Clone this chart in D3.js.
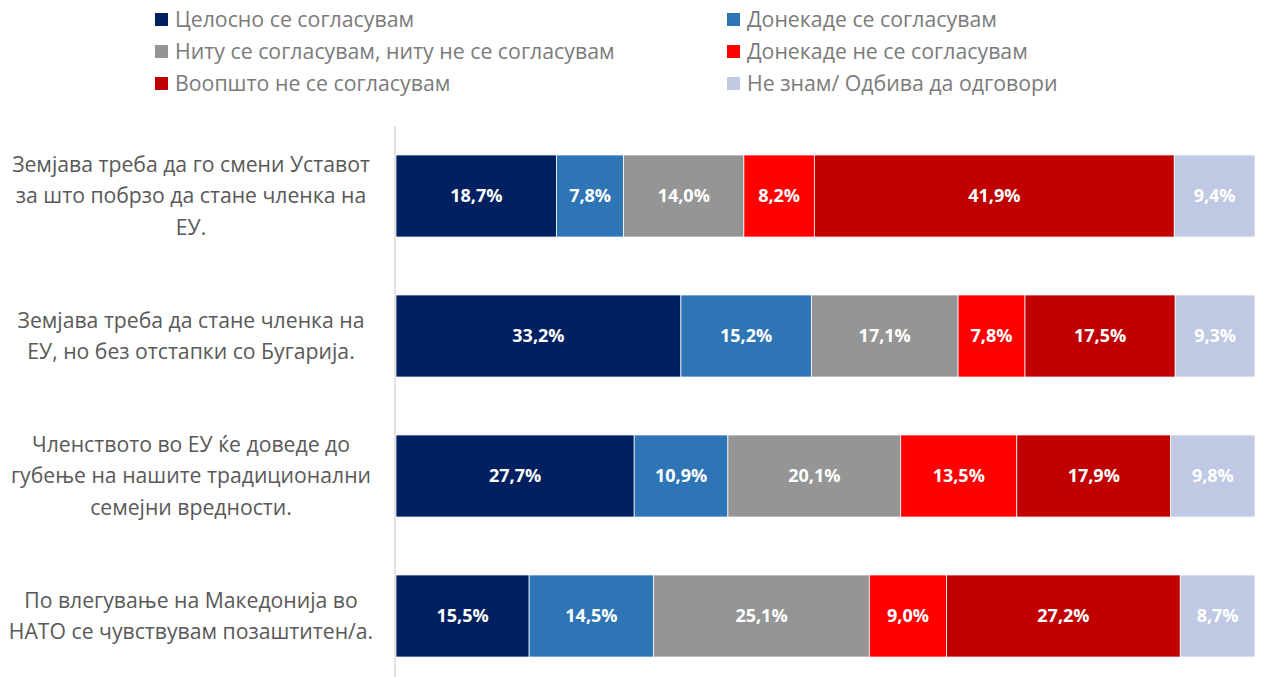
<!DOCTYPE html>
<html>
<head>
<meta charset="utf-8">
<title>Stacked bars</title>
<script src="https://cdn.jsdelivr.net/npm/d3@7"></script>
<style>
  body { margin: 0; background: #fff; }
  svg { display: block; font-family: "Open Sans", sans-serif; }
</style>
</head>
<body>
<svg id="chart" width="1261" height="677"></svg>
<script>
// categories (line breaks as in the original labels)
const categories = [
  "Земјава треба да го смени Уставот\nза што побрзо да стане членка на\nЕУ.",
  "Земјава треба да стане членка на\nЕУ, но без отстапки со Бугарија.",
  "Членството во ЕУ ќе доведе до\nгубење на нашите традиционални\nсемејни вредности.",
  "По влегување на Македонија во\nНАТО се чувствувам позаштитен/а."
];
const seriesNames = [
  "Целосно се согласувам",
  "Донекаде се согласувам",
  "Ниту се согласувам, ниту не се согласувам",
  "Донекаде не се согласувам",
  "Воопшто не се согласувам",
  "Не знам/ Одбива да одговори"
];
const colors = ["#002060", "#2E75B6", "#959595", "#FF0000", "#C00000", "#BFC9E4"];
// one array per series, values in category order
const fullyAgree    = [18.7, 33.2, 27.7, 15.5];
const partlyAgree   = [7.8, 15.2, 10.9, 14.5];
const neither       = [14.0, 17.1, 20.1, 25.1];
const partlyDisagree = [8.2, 7.8, 13.5, 9.0];
const fullyDisagree = [41.9, 17.5, 17.9, 27.2];
const dontKnow      = [9.4, 9.3, 9.8, 8.7];

const seriesValues = [fullyAgree, partlyAgree, neither, partlyDisagree, fullyDisagree, dontKnow];

const rows = categories.map((c, i) => {
  const r = { category: c };
  seriesNames.forEach((s, j) => { r[s] = seriesValues[j][i]; });
  return r;
});

const svg = d3.select("#chart");

const x = d3.scaleLinear().domain([0, 1]).range([396, 1255]);
const y = d3.scaleBand().domain(categories).range([126, 686])
  .paddingInner(0.414).paddingOuter(0.207);
const color = d3.scaleOrdinal().domain(seriesNames).range(colors);

const stacked = d3.stack().keys(seriesNames).offset(d3.stackOffsetExpand)(rows);

// legend, two columns
const legend = svg.append("g");
seriesNames.forEach((s, i) => {
  const col = i % 2, row = Math.floor(i / 2);
  const g = legend.append("g")
    .attr("transform", `translate(${col === 0 ? 155 : 727},${19.5 + row * 32})`);
  g.append("rect").attr("x", 0).attr("y", -6.5).attr("width", 13).attr("height", 13)
    .attr("fill", color(s));
  g.append("text").attr("x", 20).attr("y", 0).attr("dy", "0.35em")
    .attr("fill", "#7B7B7B").style("font-size", "21.3px").text(s);
});

// bars
const layer = svg.append("g").selectAll("g").data(stacked).join("g")
  .attr("fill", d => color(d.key));

layer.selectAll("rect").data(d => d.map(v => Object.assign(v, { key: d.key })))
  .join("rect")
  .attr("x", d => x(d[0]))
  .attr("y", d => y(d.data.category))
  .attr("width", d => x(d[1]) - x(d[0]))
  .attr("height", y.bandwidth())
  .attr("stroke", "#fff")
  .attr("stroke-width", 0.75);

// value labels
layer.selectAll("text").data(d => d).join("text")
  .attr("x", d => (x(d[0]) + x(d[1])) / 2)
  .attr("y", d => y(d.data.category) + y.bandwidth() / 2)
  .attr("dy", "0.36em")
  .attr("text-anchor", "middle")
  .attr("fill", "#fff")
  .style("font-size", "18px")
  .style("font-weight", "bold")
  .text(d => d.data[d.key].toFixed(1).replace(".", ",") + "%");

// vertical axis line
svg.append("line").attr("x1", 395).attr("x2", 395).attr("y1", 126).attr("y2", 677)
  .attr("stroke", "#D9D9D9").attr("stroke-width", 1.5);

// category labels
const labels = svg.append("g").selectAll("text").data(categories).join("text")
  .attr("text-anchor", "middle")
  .attr("fill", "#595959")
  .style("font-size", "21.2px");
labels.each(function (c) {
  const lines = c.split("\n");
  const cy = y(c) + y.bandwidth() / 2;
  d3.select(this).selectAll("tspan").data(lines).join("tspan")
    .attr("x", 191)
    .attr("y", (l, i) => cy + (i - (lines.length - 1) / 2) * 31.5)
    .attr("dy", "0.35em")
    .text(l => l);
});
</script>
</body>
</html>
